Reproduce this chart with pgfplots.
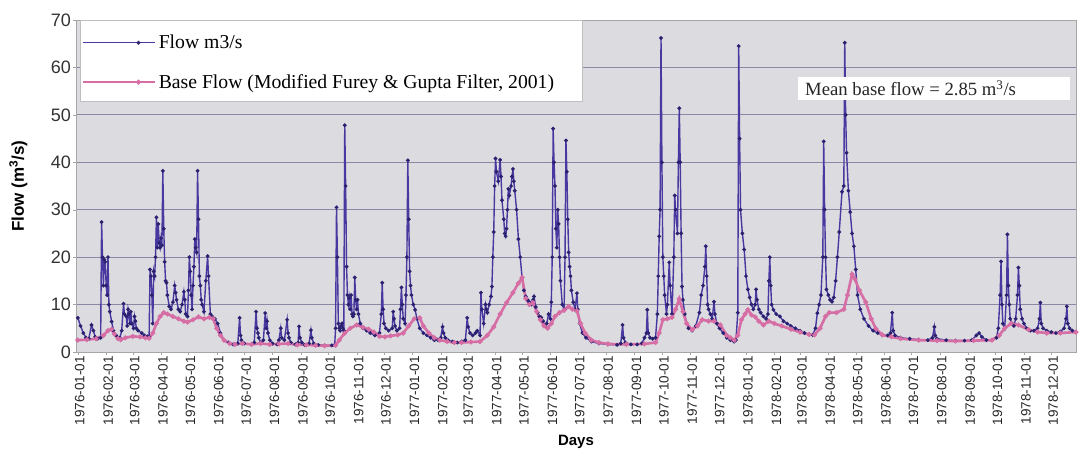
\documentclass[border=0pt]{standalone}
\usepackage{fontspec}
\setmainfont{Liberation Sans}
\newfontfamily\seriffont{Liberation Serif}
\usepackage{pgfplots}
\pgfplotsset{compat=1.18}
\usepackage{pgfplotstable}
\definecolor{flowc}{HTML}{4838A0}
\definecolor{flowm}{HTML}{2A2170}
\definecolor{basec}{HTML}{D66EA5}
\definecolor{bgc}{HTML}{DBDBE0}
\definecolor{gridc}{HTML}{8D87A6}

\pgfplotstableread{
x y
0 7.2
3 5.5
6 4
9 3
12 2.8
15 5.7
17 4.5
19 3.2
22 2.8
25 3
26 27.4
27 20
28 14
29 19.5
30 19
31 14
32 12
33 20
34 10
35 8.5
37 6.4
39 4.5
42 3.5
46 3
48 4.5
50 10.2
51 8
53 7.5
54 5.5
55 9
56 8
57 6
58 8.5
59 6
61 5
62 7.5
63 6.5
64 5
66 4.5
70 4
73 3.5
76 3.3
78 3.2
79 17.4
80 16
81 12
82 6
83 17
84 16
85 20
86 28.4
87 22
88 27
89 23
90 22
91 24
92 22.5
93 38.2
94 26
95 19
96 15
97 14.6
98 12
100 9.6
102 9
104 10.5
106 14
107 12.5
108 11
110 9
112 8.5
114 10
116 12.7
117 11
118 8
120 7.5
121 13
122 20
123 17
124 12
125 9
126 14
127 18
128 23.8
129 22
130 21
131 38.2
132 28
133 16
134 14
135 11
136 10
138 8.5
140 15
142 20.2
143 16
145 8
147 7.5
150 7
153 6
156 4
160 2.5
165 2
170 1.6
175 1.8
177 7.2
178 3.5
179 2.5
182 1.8
190 1.6
193 2
195 8.5
196 5
197 4
198 3
200 2
203 2.5
205 8.2
206 5
207 6.5
208 4
210 2.5
213 1.8
218 1.6
220 2.5
222 5
223 3
226 2.5
229 6.8
230 4
231 3
233 2
238 1.6
241 2
242 5.4
243 3
245 2
248 1.5
253 1.8
255 4.6
256 3
258 1.8
263 1.5
270 1.4
278 1.4
281 1.5
282 5
283 30.5
284 20
285 6
286 5
287 4.5
288 5.5
289 6
290 5
291 4.5
292 47.8
293 35
294 18
295 12
296 10
297 11.4
298 9
299 12
300 8
301 7.5
302 8
303 15.7
304 11
305 9
306 11
307 8
309 6
312 5
316 4.5
320 4
325 3.5
330 4
332 8
333 14.6
334 9
335 6
337 5
340 4.5
344 5
345 8.5
346 7
347 5.5
349 4.5
352 5
353 9
354 13.6
355 10
356 7
358 6
359 12
360 20
361 40.4
362 28
363 17
364 14
365 12
367 10
369 8.9
371 7
374 5
378 4
382 3.5
386 3
390 2.5
394 2.5
397 3
399 5.3
400 4
402 3
405 2.5
410 2.2
415 2
420 2.2
424 2.5
426 7.2
427 5.3
429 4
432 3.5
435 4
437 4.5
440 3.5
441 12.5
442 9
444 6
446 10
447 9
448 8.3
450 10
452 11.7
453 13.8
454 20
455 25.3
456 35
457 40.8
458 38
460 36
462 40.5
463 37
464 32
466 28
467 25
468 24.4
469 26
470 30
471 34.4
472 33
474 35
475 37
476 38.6
477 36
478 34
480 30
482 23.8
484 20
486 15.7
488 13
490 11.7
492 11
494 10.5
496 10
498 11
499 11.7
501 9.5
503 8.3
505 7.5
507 7.3
509 6.5
511 5.5
513 6
515 8
517 7
518 10.5
519 20
520 47.1
521 40
522 35
523 26
524 22
525 30
526 27
527 20
528 15
530 10
532 9
533 20
534 44.6
535 38
536 28
537 21
538 18
539 16
540 13
542 10.5
544 9
546 12.4
547 9
549 6
552 4
556 3
562 2.2
570 1.8
580 1.6
590 1.5
594 1.8
596 5.7
597 3
599 2
605 1.6
612 1.6
617 1.8
620 3
622 4
623 8.9
624 4
626 3
629 2.8
632 3
634 8
635 16
636 24.4
637 30
638 66.2
639 40
640 20
641 16
642 12
644 8
645 10
647 18.9
648 14
650 8
652 20
653 33
654 30
656 25
657 40
658 51.4
659 40
660 25
661 13.8
662 11
664 8
666 6
668 5
672 4.5
676 5.5
680 8.3
682 12
684 14
686 18
687 22.3
688 16
689 10
690 9
692 8
694 7
696 10.6
697 8
699 6
702 5
706 4
710 3
714 2.5
718 2.2
720 2.5
722 8.3
723 64.5
724 45
725 30
727 25
729 21.6
731 16
733 13.2
735 11.5
737 10
739 9
741 10
742 13.2
743 11
745 9
747 8.3
750 7.5
753 7
755 8
756 15
757 20
758 14
759 10
761 8.9
764 8
768 7.5
772 6.5
776 6
780 5.5
785 5
790 4.5
795 4
800 3.7
804 3.6
807 5
809 8.2
811 10
813 12
815 20
816 44.4
817 30
818 20
819 13.2
821 12
823 11
825 10.6
827 11.5
829 15
831 20
833 25.3
836 33.8
838 35
839 65.2
840 50
841 42
843 34
845 29.5
847 25
849 22.3
851 17.4
853 12
856 9
860 7
865 5.5
870 4.5
875 4
880 3.6
886 3.5
889 4
891 8.3
892 4.5
894 3.5
900 3
910 2.8
920 2.6
930 2.5
935 3
937 5.3
938 3.5
940 2.8
950 2.5
960 2.4
970 2.4
978 2.5
983 3.5
986 4
989 3.2
994 2.5
1000 2.5
1005 3
1007 5
1009 12
1010 19.1
1011 10
1012 6
1014 5
1016 12
1017 24.8
1018 14
1019 10
1020 7
1022 6
1024 5.5
1026 7
1028 12
1029 17.8
1030 14
1031 9
1033 7
1035 6
1038 5
1042 4.5
1046 4.5
1050 5
1052 7
1053 10.4
1054 6
1056 5
1060 4.5
1065 4.2
1070 4
1075 4.3
1079 5
1081 7
1082 9.6
1083 6
1085 5
1088 4.5
1092 4.2
}\flowtable

\pgfplotstableread{
x y
0 2.5
10 2.6
20 2.8
28 3.5
33 4.5
37 4.8
40 3.8
44 2.8
47 2.6
52 3
60 3.3
68 3.2
74 3
78 2.9
82 4
86 6
90 7.5
94 8.3
98 8
104 7.5
110 7
116 6.5
120 6.3
126 6.8
132 7.4
138 7
144 7.3
148 7
152 5
156 3.5
160 2.5
166 1.8
172 1.6
180 1.8
190 1.6
200 1.8
210 1.6
220 1.7
230 1.8
240 1.5
250 1.5
260 1.4
270 1.3
282 1.4
286 2.5
292 4
298 5
305 5.7
312 5.2
318 4.8
324 4.2
330 3.3
336 3.2
342 3.4
350 3.6
356 4
362 5.5
368 7
374 7.2
378 5.5
384 4
390 3
396 2.5
404 2.2
412 2
420 2
430 2.1
440 2.2
448 3.5
455 5.3
462 8
469 10.4
476 12.5
482 14.5
486 15.7
490 11.3
494 10
498 10.4
502 8.5
506 6.8
510 5.5
514 5
518 6
522 7.5
527 8.3
532 8.8
537 9.6
541 9
546 8.7
550 6
555 4
562 2.5
570 2
580 1.7
600 1.6
620 1.7
632 2
636 4
640 6.8
645 7
650 7.3
654 9
658 11.2
662 8.5
666 6
672 4.7
678 5.5
683 6.8
690 6.5
696 6.5
703 5.7
710 3.5
714 3
718 2.5
722 3.5
726 6.8
730 8
733 8.9
737 7.8
741 7.4
745 6.5
750 5.7
756 6.5
762 6
770 5.5
780 4.8
790 4.2
800 3.7
806 3.6
812 5
818 7.5
822 8.3
830 8.3
838 9
842 12
847 16.4
850 15.4
855 13
862 10.5
868 7
873 4.9
880 3.6
890 3.2
900 2.8
920 2.5
940 2.4
960 2.3
980 2.4
1000 2.5
1008 3.5
1014 5
1021 6
1029 5.7
1040 4.7
1050 4.2
1060 4
1075 4
1092 4.2
}\basetable

\begin{document}
\begin{tikzpicture}
\useasboundingbox (0,0) rectangle (1079bp,459bp);
\begin{axis}[
  at={(76bp,107bp)}, anchor=south west,
  scale only axis, width=1000bp, height=332bp,
  xmin=-2, xmax=1092, ymin=0, ymax=70,
  axis background/.style={fill=bgc},
  axis line style={draw=gray!70},
  ytick={0,10,...,70},
  ymajorgrids, grid style={draw=gridc, line width=0.8bp},
  xtick={0,31,60,91,121,152,182,213,244,274,305,335,366,397,425,456,486,517,547,578,609,639,670,700,731,762,790,821,851,882,912,943,974,1004,1035,1065},
  xticklabels={1976-01-01,1976-02-01,1976-03-01,1976-04-01,1976-05-01,1976-06-01,1976-07-01,1976-08-01,1976-09-01,1976-10-01,1976-11-01,1976-12-01,1977-01-01,1977-02-01,1977-03-01,1977-04-01,1977-05-01,1977-06-01,1977-07-01,1977-08-01,1977-09-01,1977-10-01,1977-11-01,1977-12-01,1978-01-01,1978-02-01,1978-03-01,1978-04-01,1978-05-01,1978-06-01,1978-07-01,1978-08-01,1978-09-01,1978-10-01,1978-11-01,1978-12-01},
  xticklabel style={rotate=90, anchor=east, font=\fontsize{13.5bp}{15bp}\selectfont, text=black!85, inner sep=1bp, yshift=-2bp},
  yticklabel style={font=\fontsize{18bp}{20bp}\selectfont, text=black!80, inner sep=2bp},
  /pgf/number format/assume math mode=true,
  tick align=outside, tick pos=left,
  major tick length=3bp,
  tick style={draw=gray!70},
  xlabel={\bfseries Days},
  xlabel style={font=\fontsize{15bp}{17bp}\selectfont, at={(rel axis cs:0.5,0)}, anchor=north, yshift=-80bp},
  ylabel={\bfseries Flow (m\textsuperscript{3}/s)},
  ylabel style={font=\fontsize{17bp}{19bp}\selectfont, at={(rel axis cs:0,0.5)}, anchor=south, yshift=45bp},
  legend style={at={(rel axis cs:0.004,1)}, anchor=north west, draw=none, fill=none,
    font=\seriffont\fontsize{19.7bp}{21bp}\selectfont, inner xsep=2bp, inner ysep=13bp,
    row sep=20bp},
  legend cell align=left,
  legend image code/.code={%
    \path (0bp,0bp) -- (72bp,0bp);
    \draw[mark repeat=2,mark phase=2,#1] plot coordinates {(38bp,0bp) (55bp,0bp) (72bp,0bp)};
  },
]
\addplot[color=flowc, line width=1.4bp, mark=*, mark size=1.1bp, mark options={fill=flowm, draw=flowm}] table[x=x,y=y] {\flowtable};
\addlegendentry{Flow m3/s}
\addplot[color=basec, line width=2.6bp, mark=*, mark size=0.9bp, mark options={fill=basec, draw=basec}] table[x=x,y=y] {\basetable};
\addlegendentry{Base Flow (Modified Furey \& Gupta Filter, 2001)}
\draw[draw=gray!50, fill=white] (rel axis cs:0.004,1) rectangle (rel axis cs:0.506,0.755);
\fill[white] (rel axis cs:0.722,0.8283) rectangle (rel axis cs:0.994,0.7590);
\node[anchor=west, inner xsep=0bp, inner ysep=0bp, font=\seriffont\fontsize{18.7bp}{20bp}\selectfont, text=black!85] at (rel axis cs:0.729,0.794) {Mean base flow = 2.85 m\textsuperscript{3}/s};
\end{axis}
\end{tikzpicture}
\end{document}
